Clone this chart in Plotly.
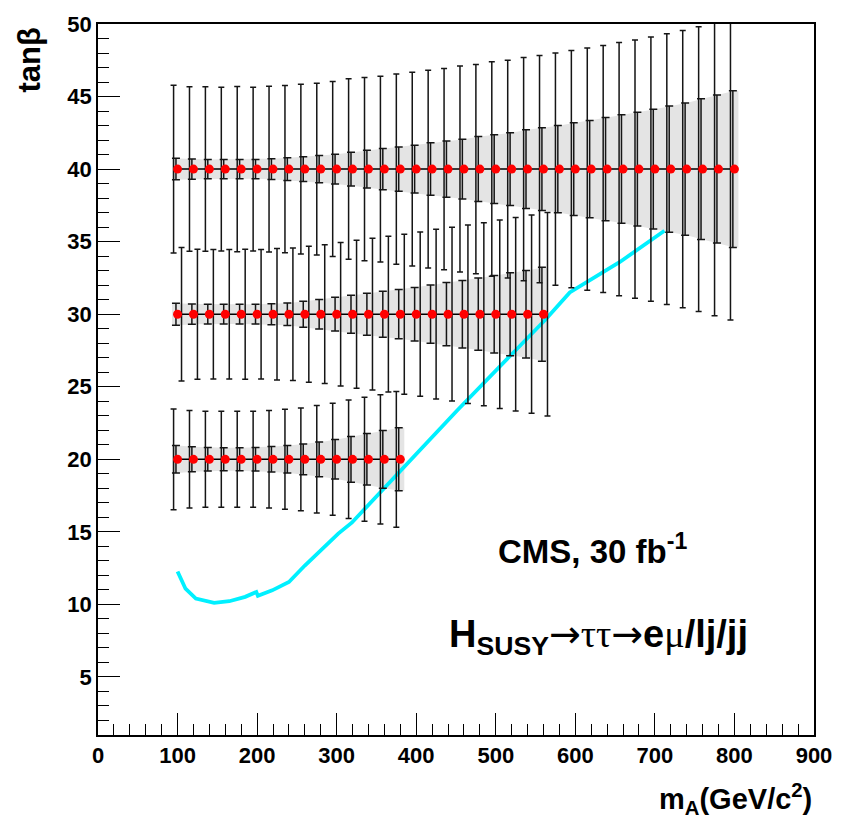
import plotly.graph_objects as go

# ---------------- data ----------------
x_tb40 = [100, 120, 140, 160, 180, 200, 220, 240, 260, 280, 300, 320, 340, 360, 380, 400, 420, 440,
          460, 480, 500, 520, 540, 560, 580, 600, 620, 640, 660, 680, 700, 720, 740, 760, 780, 800]
big_tb40 = [5.78, 5.67, 5.67, 5.64, 5.69, 5.64, 5.71, 5.76, 5.85, 5.92, 6.03, 6.22, 6.31, 6.40, 6.56, 6.67, 6.81, 6.94,
            7.10, 7.21, 7.39, 7.51, 7.69, 7.83, 8.01, 8.17, 8.35, 8.51, 8.72, 8.90, 9.10, 9.33, 9.56, 9.81, 10.10, 10.40]
small_tb40 = [0.74, 0.70, 0.67, 0.67, 0.67, 0.67, 0.72, 0.78, 0.85, 0.94, 1.03, 1.17, 1.30, 1.42, 1.53, 1.65, 1.81, 1.94,
              2.06, 2.24, 2.37, 2.51, 2.71, 2.85, 3.01, 3.19, 3.35, 3.56, 3.74, 3.92, 4.12, 4.35, 4.56, 4.85, 5.10, 5.40]

x_tb30 = [100, 120, 140, 160, 180, 200, 220, 240, 260, 280, 300, 320, 340, 360, 380, 400, 420, 440,
          460, 480, 500, 520, 540, 560]
big_tb30 = [4.60, 4.48, 4.46, 4.46, 4.48, 4.46, 4.53, 4.57, 4.69, 4.78, 4.94, 5.10, 5.23, 5.37, 5.51, 5.66, 5.85, 5.99,
            6.15, 6.31, 6.49, 6.67, 6.83, 7.01]
small_tb30 = [0.76, 0.70, 0.68, 0.68, 0.68, 0.68, 0.72, 0.78, 0.90, 1.02, 1.16, 1.31, 1.45, 1.59, 1.70, 1.84, 2.01, 2.18,
              2.33, 2.49, 2.67, 2.86, 3.01, 3.24]

x_tb20 = [100, 120, 140, 160, 180, 200, 220, 240, 260, 280, 300, 320, 340, 360, 380]
big_tb20 = [3.47, 3.36, 3.31, 3.31, 3.31, 3.31, 3.36, 3.45, 3.54, 3.70, 3.86, 4.08, 4.27, 4.45, 4.68]
small_tb20 = [0.95, 0.86, 0.81, 0.79, 0.79, 0.81, 0.88, 0.95, 1.06, 1.20, 1.36, 1.58, 1.77, 1.99, 2.17]

rows = [
    (40, x_tb40, big_tb40, small_tb40, -5),
    (30, x_tb30, big_tb30, small_tb30, +5),
    (20, x_tb20, big_tb20, small_tb20, -5),
]

curve_x = [100, 110, 123, 146, 165, 185, 199, 201, 219, 240, 260, 281, 302, 319, 452, 562, 593, 656, 712]
curve_y = [12.27, 11.08, 10.40, 10.11, 10.22, 10.52, 10.86, 10.59, 10.97, 11.54, 12.68, 13.81, 14.88, 15.63,
           23.4, 29.6, 31.5, 33.6, 35.75]

# ---------------- figure ----------------
fig = go.Figure()

# bands
for tb, xs, big, small, off in rows:
    bx = [xs[0] - 7] + xs + [xs[-1] + 5]
    bs = [small[0]] + small + [small[-1]]
    up = [tb + s for s in bs]
    lo = [tb - s for s in bs]
    fig.add_trace(go.Scatter(x=bx + bx[::-1], y=up + lo[::-1], fill="toself",
                             fillcolor="#e4e4e4", line=dict(width=0), mode="lines",
                             hoverinfo="skip", showlegend=False))

# cyan curve
fig.add_trace(go.Scatter(x=curve_x, y=curve_y, mode="lines",
                         line=dict(color="#00f0ff", width=3.8), showlegend=False))

# error bars
for tb, xs, big, small, off in rows:
    fig.add_trace(go.Scatter(x=[v + off for v in xs], y=[tb] * len(xs), mode="markers",
                             marker=dict(size=1, color="rgba(0,0,0,0)"),
                             error_y=dict(type="data", array=big, symmetric=True, width=3,
                                          thickness=1.5, color="#151515"),
                             showlegend=False))
    fig.add_trace(go.Scatter(x=[v - 2 for v in xs], y=[tb] * len(xs), mode="markers",
                             marker=dict(size=1, color="rgba(0,0,0,0)"),
                             error_y=dict(type="data", array=small, symmetric=True, width=4,
                                          thickness=1.5, color="#151515"),
                             showlegend=False))

# points with connecting line
for tb, xs, big, small, off in rows:
    fig.add_trace(go.Scatter(x=xs, y=[tb] * len(xs), mode="lines+markers",
                             line=dict(color="black", width=1.5),
                             marker=dict(size=9, color="#ff0000"),
                             showlegend=False))

tickfont = dict(family="Liberation Sans", size=22, color="black", weight="bold")
fig.update_xaxes(range=[0, 900], dtick=100, tick0=0, ticks="inside", ticklen=22, tickwidth=1.3,
                 tickcolor="black", showline=True, linecolor="black", linewidth=1.5, mirror=True,
                 showgrid=False, zeroline=False, tickfont=tickfont,
                 minor=dict(dtick=20, ticks="inside", ticklen=11, tickcolor="black", tickwidth=1.2,
                            showgrid=False))
fig.update_yaxes(range=[1, 50], dtick=5, tick0=0, ticks="inside", ticklen=22, tickwidth=1.3,
                 tickcolor="black", showline=True, linecolor="black", linewidth=1.5, mirror=True,
                 showgrid=False, zeroline=False, tickfont=tickfont,
                 minor=dict(dtick=1, ticks="inside", ticklen=11, tickcolor="black", tickwidth=1.2,
                            showgrid=False))

bold = dict(family="Liberation Sans", size=31, color="black", weight="bold")
fig.add_annotation(text="tanβ", xref="paper", yref="paper", x=-0.095, y=0.95, textangle=-90,
                   showarrow=False, font=bold, xanchor="center", yanchor="middle")
fig.add_annotation(text="m<sub>A</sub>(GeV/c<sup>2</sup>)", xref="paper", yref="paper",
                   x=1.0, y=-0.09, xanchor="right", yanchor="middle", showarrow=False,
                   font=dict(family="Liberation Sans", size=29, color="black", weight="bold"))
fig.add_annotation(text="CMS, 30 fb<sup>-1</sup>", xref="paper", yref="paper",
                   x=0.69, y=0.262, xanchor="center", yanchor="middle", showarrow=False,
                   font=dict(family="Liberation Sans", size=33, color="black", weight="bold"))
arrow = "<span style=\"font-family:'DejaVu Sans'\">→</span>"
greek_tt = "<span style=\"font-family:'Liberation Serif'\">ττ</span>"
greek_mu = "<span style=\"font-family:'Liberation Serif'\">μ</span>"
fig.add_annotation(text="<b>H</b><sub><b>SUSY</b></sub>" + arrow + greek_tt + arrow + "<b>e</b>" + greek_mu + "<b>/lj/jj</b>",
                   xref="paper", yref="paper",
                   x=0.699, y=0.138, xanchor="center", yanchor="middle", showarrow=False,
                   font=dict(family="Liberation Sans", size=38, color="black"))

fig.update_layout(width=844, height=826, margin=dict(l=98, r=25, t=16, b=91),
                  plot_bgcolor="white", paper_bgcolor="white", showlegend=False)

fig.write_html("out.html")
